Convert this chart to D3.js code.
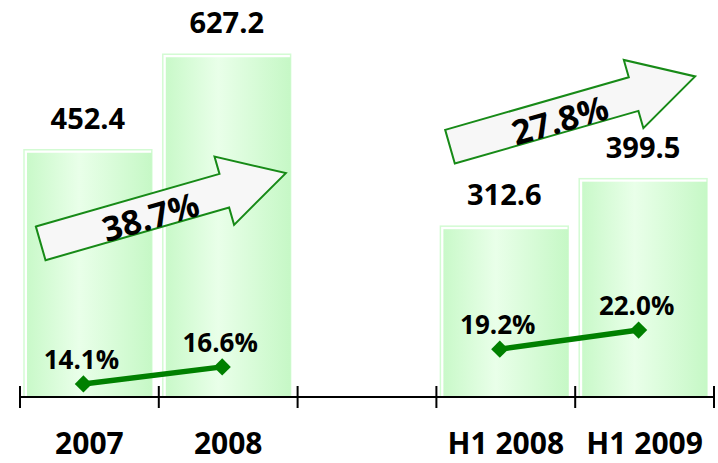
<!DOCTYPE html>
<html>
<head>
<meta charset="utf-8">
<script src="https://cdn.jsdelivr.net/npm/d3@7"></script>
<style>
  html, body { margin: 0; padding: 0; background: #fff; }
  svg { display: block; }
  text { font-family: "Open Sans", "Noto Sans", sans-serif; font-weight: 700; fill: #000; }
</style>
</head>
<body>
<svg id="chart" width="718" height="463"></svg>
<script>
// ---- data ----
const slots = ["2007", "2008", "", "H1 2008", "H1 2009"];
const categories = ["2007", "2008", "H1 2008", "H1 2009"];
const values = [452.4, 627.2, 312.6, 399.5];
const valueLabels = ["452.4", "627.2", "312.6", "399.5"];
const margins = [14.1, 16.6, 19.2, 22.0];
const marginLabels = ["14.1%", "16.6%", "19.2%", "22.0%"];
const growthLabels = ["38.7%", "27.8%"];

// ---- layout ----
const svg = d3.select("#chart");
const axisY = 397;
const x = d3.scaleBand().domain(slots).range([20, 714]).padding(0);
const y = d3.scaleLinear().domain([0, 700]).range([axisY, axisY - 700 * 0.5465]);
const yPct = d3.scaleLinear().domain([0, 70]).range([480, 3]);

// gradient
const defs = svg.append("defs");
const grad = defs.append("linearGradient").attr("id", "barGrad")
  .attr("x1", "0%").attr("x2", "100%").attr("y1", "0%").attr("y2", "0%");
grad.append("stop").attr("offset", "0%").attr("stop-color", "#c9f9c9");
grad.append("stop").attr("offset", "42%").attr("stop-color", "#e9ffe9");
grad.append("stop").attr("offset", "100%").attr("stop-color", "#c6f8c6");

const bw = x.bandwidth() - 11;
const bx = c => x(c) + 4;

// bars: outer light outline + inner gradient fill
const bars = svg.append("g");
categories.forEach((c, i) => {
  bars.append("rect")
    .attr("x", bx(c)).attr("y", y(values[i]))
    .attr("width", bw).attr("height", axisY - y(values[i]))
    .attr("fill", "#ffffff").attr("stroke", "#d3fbd3").attr("stroke-width", 1.5);
  bars.append("rect")
    .attr("x", bx(c) + 3).attr("y", y(values[i]) + 3)
    .attr("width", bw - 3).attr("height", axisY - y(values[i]) - 3)
    .attr("fill", "url(#barGrad)");
});

// value labels
svg.append("g").selectAll("text").data(categories).join("text")
  .attr("x", c => bx(c) + bw / 2)
  .attr("y", (c, i) => y(values[i]) - 21)
  .attr("text-anchor", "middle")
  .attr("font-size", 29)
  .text((c, i) => valueLabels[i]);

// axis line + ticks
svg.append("line").attr("x1", 20).attr("x2", 714).attr("y1", axisY).attr("y2", axisY)
  .attr("stroke", "#000").attr("stroke-width", 2);
const tickXs = slots.map(s => x(s)).concat([x.range()[1]]);
svg.append("g").selectAll("line").data(tickXs).join("line")
  .attr("x1", d => d).attr("x2", d => d).attr("y1", axisY - 11).attr("y2", axisY + 11)
  .attr("stroke", "#000").attr("stroke-width", 2);

// category labels
svg.append("g").selectAll("text").data(categories).join("text")
  .attr("x", c => x(c) + x.bandwidth() / 2)
  .attr("y", 454)
  .attr("text-anchor", "middle")
  .attr("font-size", 30)
  .text(c => c);

// margin lines (two segments)
const px = c => x(c) + x.bandwidth() / 2 - 6;
const segs = [[0, 1], [2, 3]];
const lineGen = d3.line().x(i => px(categories[i])).y(i => yPct(margins[i]));
svg.append("g").selectAll("path").data(segs).join("path")
  .attr("d", s => lineGen(s))
  .attr("fill", "none").attr("stroke", "#008000").attr("stroke-width", 5.5);
svg.append("g").selectAll("path").data(categories).join("path")
  .attr("d", d3.symbol().type(d3.symbolDiamond2).size(190))
  .attr("transform", (c, i) => `translate(${px(c)},${yPct(margins[i])})`)
  .attr("fill", "#008000");
svg.append("g").selectAll("text").data(categories).join("text")
  .attr("x", c => px(c) - 2)
  .attr("y", (c, i) => yPct(margins[i]) - 15)
  .attr("text-anchor", "middle")
  .attr("font-size", 26)
  .text((c, i) => marginLabels[i]);

// growth arrows (annotations)
const arrowLen = 255, shaftW = 35, headW = 71, headL = 64, angle = -16;
const arrowPts = [
  [0, -shaftW / 2], [arrowLen - headL, -shaftW / 2], [arrowLen - headL, -headW / 2],
  [arrowLen, 0], [arrowLen - headL, headW / 2], [arrowLen - headL, shaftW / 2], [0, shaftW / 2]
];
const arrowAnchors = [[40.7, 243.4], [450, 146.7]];
growthLabels.forEach((lab, i) => {
  const g = svg.append("g")
    .attr("transform", `translate(${arrowAnchors[i][0]},${arrowAnchors[i][1]}) rotate(${angle})`);
  g.append("path").attr("d", d3.line()(arrowPts) + "Z")
    .attr("fill", "#f7f7f7").attr("stroke", "#178a17").attr("stroke-width", 2)
    .attr("stroke-linejoin", "miter");
  g.append("text").attr("x", 113).attr("y", 17)
    .attr("text-anchor", "middle").attr("font-size", 34).text(lab);
});
</script>
</body>
</html>
